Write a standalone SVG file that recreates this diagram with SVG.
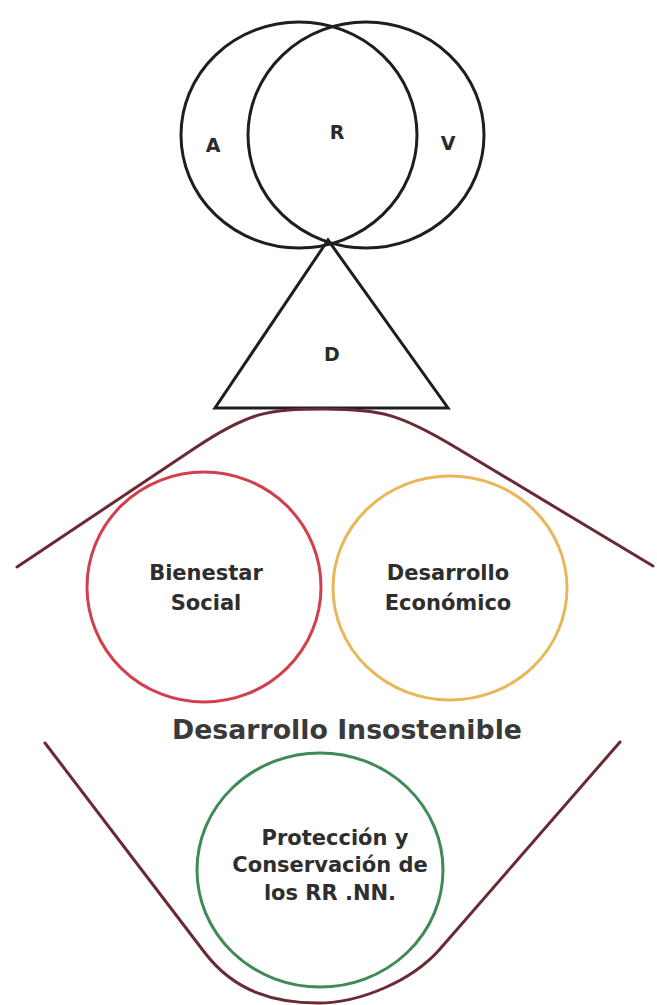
<svg xmlns="http://www.w3.org/2000/svg" width="657" height="1005" viewBox="0 0 657 1005">
  <style>
    .ink { fill: none; stroke: #1e1e1e; stroke-width: 3; }
    .arch { fill: none; stroke: #6a2a33; stroke-width: 3; stroke-linejoin: round; stroke-linecap: round; }
    .ring { fill: none; stroke-width: 3; }
    .letter { font-family: "DejaVu Sans", Verdana, sans-serif; font-size: 19px; font-weight: bold; fill: #2a2a2a; text-anchor: middle; }
    .label { font-family: "DejaVu Sans", Verdana, sans-serif; font-size: 21px; font-weight: bold; fill: #2e2e2e; text-anchor: middle; }
    .title { font-family: "DejaVu Sans", Verdana, sans-serif; font-size: 26px; font-weight: bold; fill: #3a3a3a; text-anchor: middle; }
  </style>
  <rect width="657" height="1005" fill="#ffffff"/>

  <!-- overlapping circles A / R / V -->
  <g id="venn-A">
    <ellipse class="ink" cx="299" cy="135" rx="118" ry="113"/>
    <text class="letter" x="213" y="152">A</text>
  </g>
  <g id="venn-V">
    <ellipse class="ink" cx="366" cy="135" rx="118" ry="113"/>
    <text class="letter" x="448" y="150">V</text>
  </g>
  <g id="venn-R">
    <text class="letter" x="337" y="139">R</text>
  </g>

  <!-- triangle D -->
  <g id="triangle-D">
    <polygon class="ink" points="328,240 215,408 448,408" stroke-linejoin="miter"/>
    <text class="letter" x="332" y="361" font-weight="normal" font-size="20">D</text>
  </g>

  <!-- arches framing the three spheres -->
  <g id="connectors">
    <path class="arch" d="M17,567 L195,448 C250,411 270,409 325,409 C380,409 400,414 455,447 L653,566"/>
    <path class="arch" d="M45,743 L205,953 C235,992 275,1003 318,1003 C360,1003 412,981 440,949 L620,742"/>
  </g>

  <g id="bienestar-social">
    <ellipse class="ring" stroke="#d2404f" cx="204" cy="587" rx="117" ry="115"/>
    <text class="label" x="206" y="580">Bienestar</text>
    <text class="label" x="206" y="610">Social</text>
  </g>

  <g id="desarrollo-economico">
    <ellipse class="ring" stroke="#e9b75a" cx="450" cy="588" rx="117" ry="112"/>
    <text class="label" x="448" y="580">Desarrollo</text>
    <text class="label" x="448" y="610">Económico</text>
  </g>

  <g id="desarrollo-insostenible">
    <text class="title" x="347" y="739" textLength="350" lengthAdjust="spacingAndGlyphs">Desarrollo Insostenible</text>
  </g>

  <g id="proteccion-conservacion">
    <ellipse class="ring" stroke="#3f8a55" cx="320" cy="870" rx="123" ry="117"/>
    <text class="label" x="335" y="845">Protección y</text>
    <text class="label" x="330" y="872">Conservación de</text>
    <text class="label" x="330" y="900">los RR .NN.</text>
  </g>
</svg>
